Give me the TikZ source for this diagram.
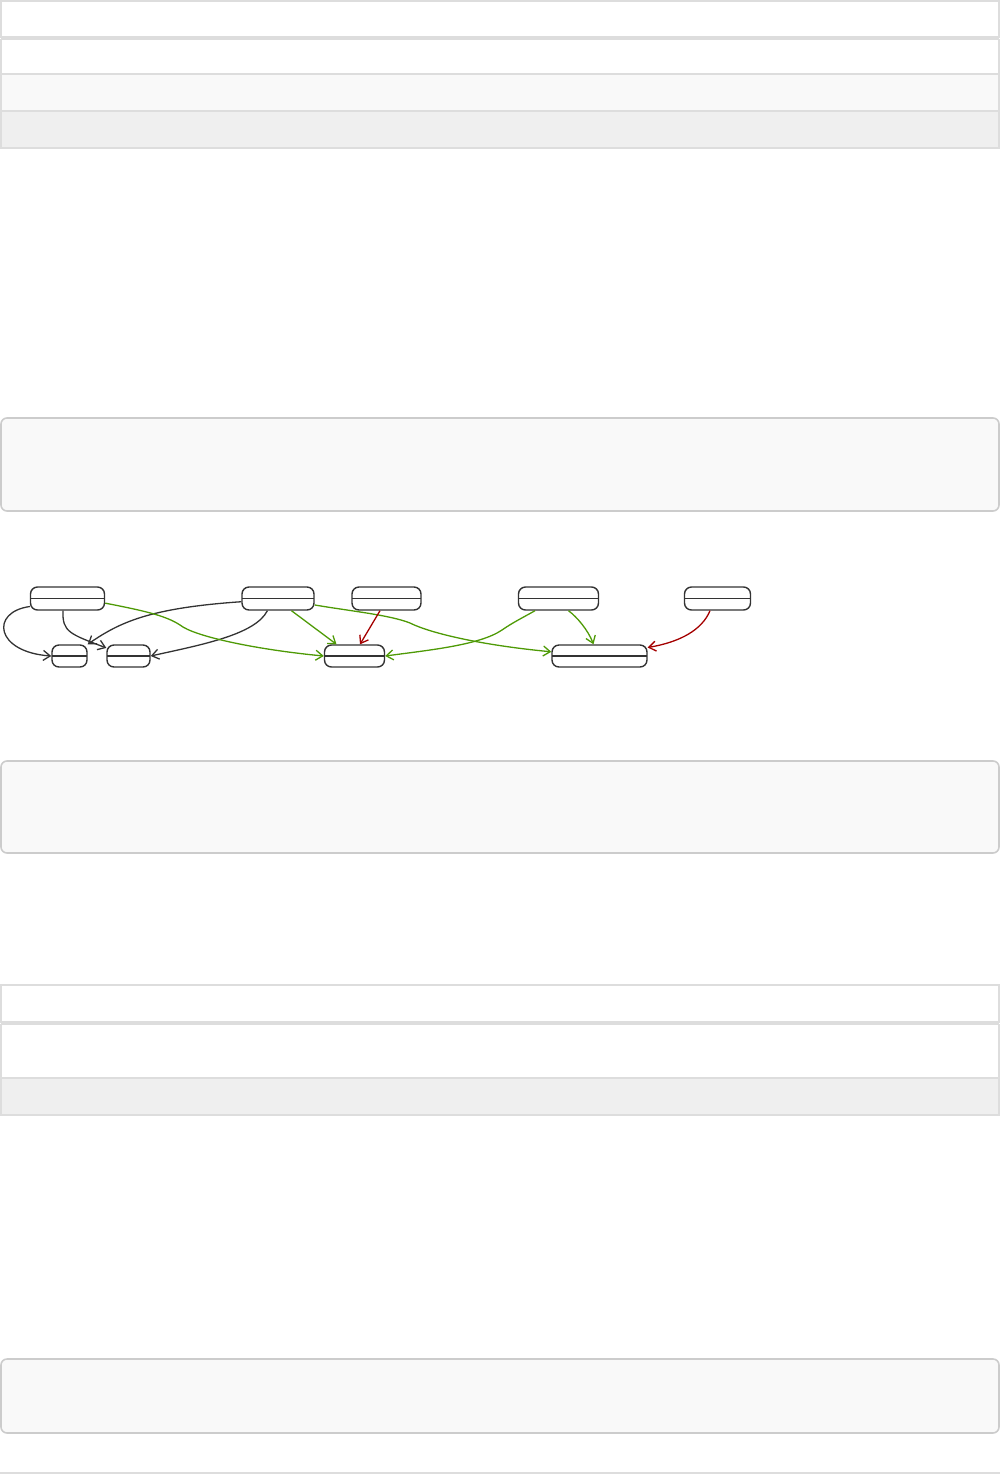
\documentclass[tikz,border=0pt]{standalone}
\usetikzlibrary{arrows.meta}
\definecolor{rulegray}{HTML}{DDDDDD}
\definecolor{boxgray}{HTML}{CCCCCC}
\definecolor{rowlight}{HTML}{F9F9F9}
\definecolor{rowdark}{HTML}{EFEFEF}
\definecolor{edgeblack}{HTML}{333333}
\definecolor{edgegreen}{HTML}{4E9A06}
\definecolor{edgered}{HTML}{A40000}
\begin{document}
\begin{tikzpicture}[x=0.5pt, y=-0.5pt,
    tablerule/.style={rulegray, line width=0.6pt},
    codebox/.style={fill=rowlight, draw=boxgray, line width=0.8pt, rounded corners=3pt},
    statebox/.style={draw=edgeblack, line width=0.7pt, rounded corners=3.5pt,
        minimum height=11.5pt, inner sep=0pt,
        path picture={\draw[edgeblack, line width=0.7pt]
            (path picture bounding box.west) -- (path picture bounding box.east);}},
    link/.style={line width=0.65pt, -{Straight Barb[length=3.5pt,width=5pt]}},
]
    \useasboundingbox (0,0) rectangle (1000,1474);
    % Table 1 (header, band, three rows)
    \foreach \ya/\yb/\c in {1/37/white, 39.5/74/white, 74/111/rowlight, 111/148/rowdark} {
        \fill[\c] (1,\ya) rectangle (999,\yb);
        \draw[tablerule] (1,\ya) rectangle (999,\yb);
    }
    \fill[rulegray] (1,37) rectangle (999,39.5);
    % Code boxes
    \draw[codebox] (1,418) rectangle (999,511);
    \draw[codebox] (1,761) rectangle (999,853);
    \draw[codebox] (1,1359) rectangle (999,1433);
    % Table 2
    \foreach \ya/\yb/\c in {985/1022/white, 1024.5/1078/white, 1078/1115/rowdark} {
        \fill[\c] (1,\ya) rectangle (999,\yb);
        \draw[tablerule] (1,\ya) rectangle (999,\yb);
    }
    \fill[rulegray] (1,1022) rectangle (999,1024.5);
    % Bottom rule
    \draw[tablerule] (0,1473) -- (1000,1473);
    % States, top row
    \node[statebox, minimum width=37pt] (A) at (67.5,598.5) {};
    \node[statebox, minimum width=36pt] (B) at (278,598.5) {};
    \node[statebox, minimum width=34.5pt] (C) at (386.5,598.5) {};
    \node[statebox, minimum width=40pt] (D) at (558.5,598.5) {};
    \node[statebox, minimum width=33pt] (E) at (717.5,598.5) {};
    % States, bottom row
    \node[statebox, minimum width=17.5pt, minimum height=11pt] (F) at (69.5,656) {};
    \node[statebox, minimum width=21.5pt, minimum height=11pt] (G) at (128.5,656) {};
    \node[statebox, minimum width=30pt, minimum height=11pt] (H) at (354.5,656) {};
    \node[statebox, minimum width=47.5pt, minimum height=11pt] (I) at (599.5,656) {};
    % Black transitions
    \draw[link, edgeblack] (A.192) .. controls (-10,612) and (-5,652) .. (F.west);
    \draw[link, edgeblack] (A.250) .. controls (62,632) and (70,634) .. (G.160);
    \draw[link, edgeblack] (B.185) .. controls (150,608) and (120,622) .. (F.north east);
    \draw[link, edgeblack] (B.229) .. controls (255,635) and (200,645) .. (G.east);
    % Green transitions
    \draw[link, edgegreen] (A.353) .. controls (140,610) and (165,615) .. (180,625)
        .. controls (195,637) and (260,650) .. (H.west);
    \draw[link, edgegreen] ([xshift=6.75pt]B.south) -- ([xshift=-9pt]H.north);
    \draw[link, edgegreen] (B.350) .. controls (350,611) and (390,615) .. (410,623)
        .. controls (430,633) and (480,645) .. (I.175);
    \draw[link, edgegreen] ([xshift=-11.75pt]D.south) .. controls (522,618) and (512,623) .. (502,630)
        .. controls (480,645) and (430,650) .. (H.east);
    \draw[link, edgegreen] ([xshift=5pt]D.south) .. controls (577,617) and (588,630) .. ([xshift=-3pt]I.north);
    % Red transitions
    \draw[link, edgered] ([xshift=-3.25pt]C.south) -- ([xshift=2.75pt]H.north);
    \draw[link, edgered] ([xshift=-3.75pt]E.south) .. controls (702,630) and (680,642) .. (I.10);
\end{tikzpicture}
\end{document}
